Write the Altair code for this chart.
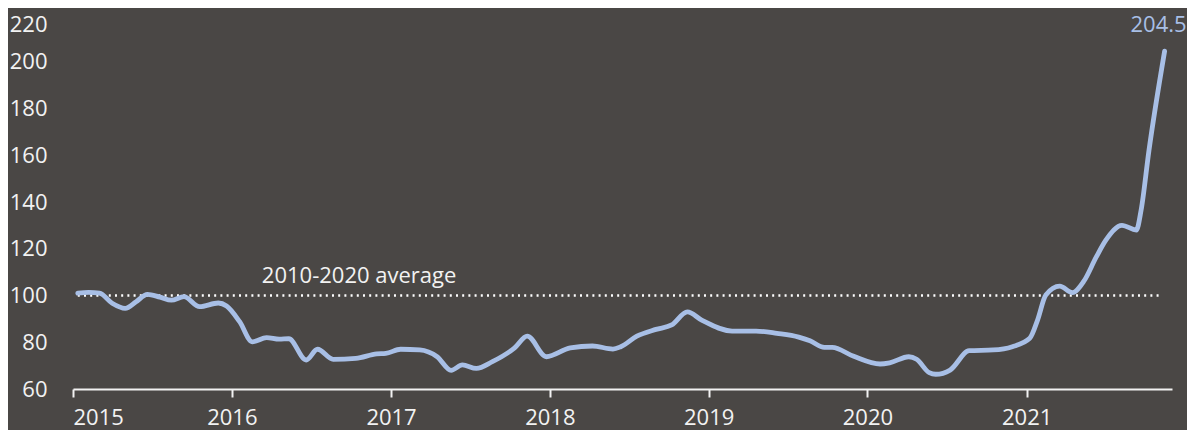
import altair as alt
import pandas as pd

dates = [
    "2015-01-12", "2015-02-06", "2015-03-03", "2015-04-01", "2015-05-01", "2015-05-26",
    "2015-06-21", "2015-07-20", "2015-08-15", "2015-09-13", "2015-10-19", "2015-12-01",
    "2015-12-20", "2016-01-19", "2016-02-17", "2016-03-21", "2016-04-19", "2016-05-11",
    "2016-06-20", "2016-07-16", "2016-08-21", "2016-10-12", "2016-11-29", "2016-12-20",
    "2017-01-23", "2017-03-08", "2017-04-17", "2017-05-19", "2017-06-14", "2017-07-16",
    "2017-08-22", "2017-10-12", "2017-11-10", "2017-12-24", "2018-02-17", "2018-04-09",
    "2018-05-26", "2018-06-13", "2018-07-20", "2018-09-02", "2018-10-08", "2018-11-13",
    "2018-12-16", "2019-02-24", "2019-04-20", "2019-06-07", "2019-07-27", "2019-08-22",
    "2019-09-24", "2019-10-12", "2019-11-29", "2020-01-30", "2020-02-21", "2020-04-05",
    "2020-04-23", "2020-05-22", "2020-06-06", "2020-07-09", "2020-08-22", "2020-10-16",
    "2020-11-29", "2021-01-08", "2021-01-26", "2021-02-14", "2021-03-18", "2021-04-16",
    "2021-05-12", "2021-06-10", "2021-07-02", "2021-08-08", "2021-09-10", "2021-09-21",
    "2021-10-09", "2021-11-14",
]
values = [
    101.0, 101.3, 101.0, 96.7, 94.5, 97.3,
    100.5, 99.3, 98.0, 99.5, 95.2, 96.8,
    95.5, 88.8, 80.2, 82.0, 81.3, 81.5,
    72.4, 77.0, 72.7, 73.1, 75.0, 75.2,
    77.0, 76.7, 73.8, 68.0, 70.3, 68.8,
    71.7, 77.6, 82.6, 73.8, 77.6, 78.4,
    77.1, 78.1, 82.6, 85.5, 87.4, 93.0,
    89.5, 84.8, 84.8, 83.8, 82.2, 80.6,
    77.8, 77.8, 74.1, 70.7, 71.2, 73.8,
    72.7, 67.0, 66.3, 68.1, 76.4, 76.7,
    78.1, 81.7, 89.5, 100.2, 104.0, 101.2,
    106.0, 116.5, 123.7, 130.0, 128.0, 136.5,
    162.0, 204.5,
]
years = [2015, 2016, 2017, 2018, 2019, 2020, 2021]
y_ticks = [60, 80, 100, 120, 140, 160, 180, 200, 220]
average_value = 100
average_label = "2010-2020 average"
avg_start = "2015-01-12"
avg_end = "2021-11-06"
label_date = "2016-03-10"
label_value = 105.3
end_label = "204.5"

LINE = "#a8bfe6"
TXT = "#f2f2f2"
BG = "#4a4745"
FONT = "Open Sans"
FS = 22

df = pd.DataFrame({"date": pd.to_datetime(dates), "value": values})

x_scale = alt.Scale(domain=[alt.DateTime(year=2015, month=1, date=1),
                            alt.DateTime(year=2021, month=12, date=1)])
y_scale = alt.Scale(domain=[60, 220], nice=False, zero=False)

x_axis = alt.Axis(
    values=[alt.DateTime(year=y, month=1, date=1) for y in years],
    format="%Y", title=None, grid=False,
    domainColor=TXT, domainWidth=2, tickColor=TXT, tickWidth=2, tickSize=8,
    labelColor=TXT, labelFont=FONT, labelFontSize=FS, labelPadding=10,
    labelAngle=0,
)
y_axis = alt.Axis(
    values=y_ticks, title=None, grid=False, domain=False, ticks=False, tickSize=0,
    labelColor=TXT, labelFont=FONT, labelFontSize=FS, labelPadding=26,
    labelOffset=alt.condition("datum.value == 220", alt.value(9), alt.value(0)),
)

line = alt.Chart(df).mark_line(
    color=LINE, strokeWidth=4.8, interpolate="monotone", strokeCap="round", clip=False
).encode(
    x=alt.X("date:T", scale=x_scale, axis=x_axis),
    y=alt.Y("value:Q", scale=y_scale, axis=y_axis),
)

avg_df = pd.DataFrame({"start": pd.to_datetime([avg_start]), "end": pd.to_datetime([avg_end]),
                       "v": [average_value], "label": [average_label],
                       "ld": pd.to_datetime([label_date]), "lv": [label_value]})

rule = alt.Chart(avg_df).mark_rule(
    color="white", strokeWidth=2.5, strokeDash=[2, 4.2]
).encode(x="start:T", x2="end:T", y="v:Q")

avg_text = alt.Chart(avg_df).mark_text(
    align="left", baseline="alphabetic", color=TXT, font=FONT, fontSize=FS
).encode(x="ld:T", y="lv:Q", text="label:N")

end_df = pd.DataFrame({"d": pd.to_datetime([dates[-1]]), "v": [values[-1]], "t": [end_label]})
end_text = alt.Chart(end_df).mark_text(
    align="right", baseline="alphabetic", color=LINE, font=FONT, fontSize=FS, dx=22, dy=-19
).encode(x="d:T", y="v:Q", text="t:N")

chart = alt.layer(rule, avg_text, line, end_text).properties(
    width=1099, height=374,
    autosize=alt.AutoSizeParams(type="none"),
    padding={"left": 65, "top": 7, "right": 15, "bottom": 41},
    background=BG,
).configure_view(stroke=None)

chart.save("out.html", embed_options={"renderer": "svg", "actions": False})
